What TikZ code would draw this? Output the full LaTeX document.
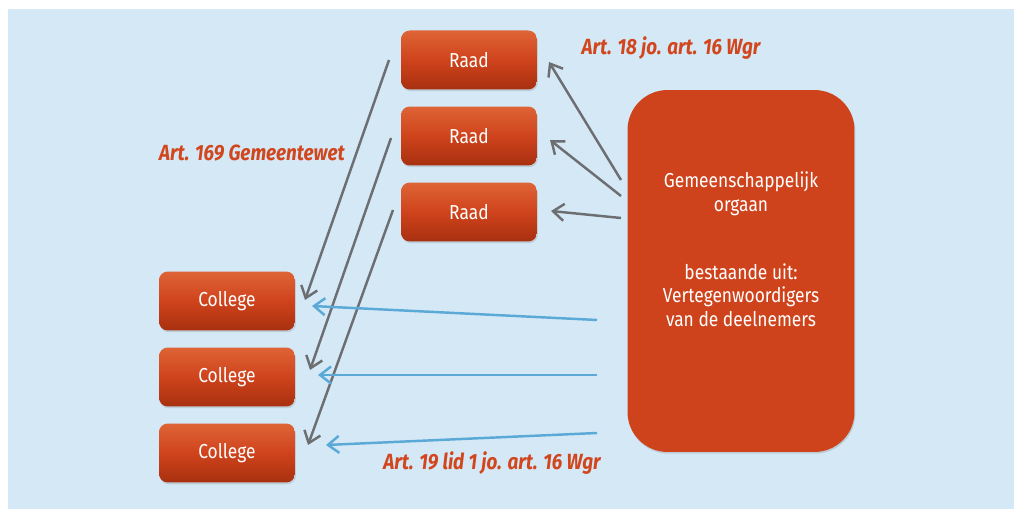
\documentclass[tikz,border=0pt]{standalone}
\usepackage{fontspec}
\setmainfont{Fira Sans}[FakeStretch=0.86]
\usetikzlibrary{arrows.meta,shadows}
\definecolor{bgblue}{HTML}{D4E8F6}
\definecolor{boxtop}{HTML}{DE6436}
\definecolor{boxmid}{HTML}{CF431C}
\definecolor{boxbot}{HTML}{A8300F}
\definecolor{lblred}{HTML}{D2461E}
\definecolor{arrgray}{HTML}{6D6E71}
\definecolor{arrblue}{HTML}{5AA9D6}

\begin{document}
\begin{tikzpicture}
  [x=0.02cm,y=-0.02cm,
   box/.style={rounded corners=5,top color=boxtop,bottom color=boxbot,middle color=boxmid,
     text=white,minimum width=2.72cm,minimum height=1.18cm,font=\fontsize{11.5}{14}\selectfont,
     drop shadow={opacity=0.25,shadow xshift=0.5pt,shadow yshift=-1pt}},
   bigbox/.style={rounded corners=0.8cm,fill=boxmid,
     minimum width=4.54cm,minimum height=7.24cm,
     drop shadow={opacity=0.25,shadow xshift=0.5pt,shadow yshift=-1pt}},
   txt/.style={text=white,align=center,font=\fontsize{11.5}{13.4}\selectfont},
   lbl/.style={text=lblred,font=\fontsize{12.5}{15}\selectfont\bfseries\itshape},
   grayarr/.style={draw=arrgray,line width=1.4pt,-{Straight Barb[length=2.2mm,width=3.4mm]}},
   bluearr/.style={draw=arrblue,line width=1.4pt,-{Straight Barb[length=2.2mm,width=3.4mm]}}]
  \useasboundingbox (0,0) rectangle (1014,509);
  \fill[bgblue] (8,9) rectangle (1014,509);

  % raden en colleges
  \node[box] (r1) at (469,60)  {Raad};
  \node[box] (r2) at (469,136) {Raad};
  \node[box] (r3) at (469,212) {Raad};
  \node[box] (c1) at (227,301) {College};
  \node[box] (c2) at (227,377) {College};
  \node[box] (c3) at (227,453) {College};

  % gemeenschappelijk orgaan
  \node[bigbox] (go) at (741,271) {};
  \node[txt] (goa) at (741,194) {Gemeenschappelijk\\orgaan};
  \node[txt] (gob) at (741,295) {bestaande uit:\\Vertegenwoordigers\\van de deelnemers};

  \node[lbl] (l1) at (671,48)  {Art. 18 jo. art. 16 Wgr};
  \node[lbl] (l2) at (252,153) {Art. 169 Gemeentewet};
  \node[lbl] (l3) at (492,463) {Art. 19 lid 1 jo. art. 16 Wgr};

  % eindpunten van de pijlen
  \coordinate (g1) at (621,180);
  \coordinate (g2) at (621,196);
  \coordinate (g3) at (621,218);
  \coordinate (t1) at (549,62);
  \coordinate (t2) at (550,140);
  \coordinate (t3) at (551,211);
  \coordinate (s1) at (389,60);
  \coordinate (s2) at (391,138);
  \coordinate (s3) at (393,210);
  \coordinate (e1) at (305,300);
  \coordinate (e2) at (310,370);
  \coordinate (e3) at (308,445);
  \coordinate (b1) at (597,320);
  \coordinate (b2) at (597,375);
  \coordinate (b3) at (597,433);
  \coordinate (d1) at (312,306);
  \coordinate (d2) at (318,375);
  \coordinate (d3) at (326,445);

  \foreach \from/\to in {g1/t1,g2/t2,g3/t3,s1/e1,s2/e2,s3/e3}
    \draw[grayarr] (\from) -- (\to);
  \foreach \from/\to in {b1/d1,b2/d2,b3/d3}
    \draw[bluearr] (\from) -- (\to);

\end{tikzpicture}
\end{document}
